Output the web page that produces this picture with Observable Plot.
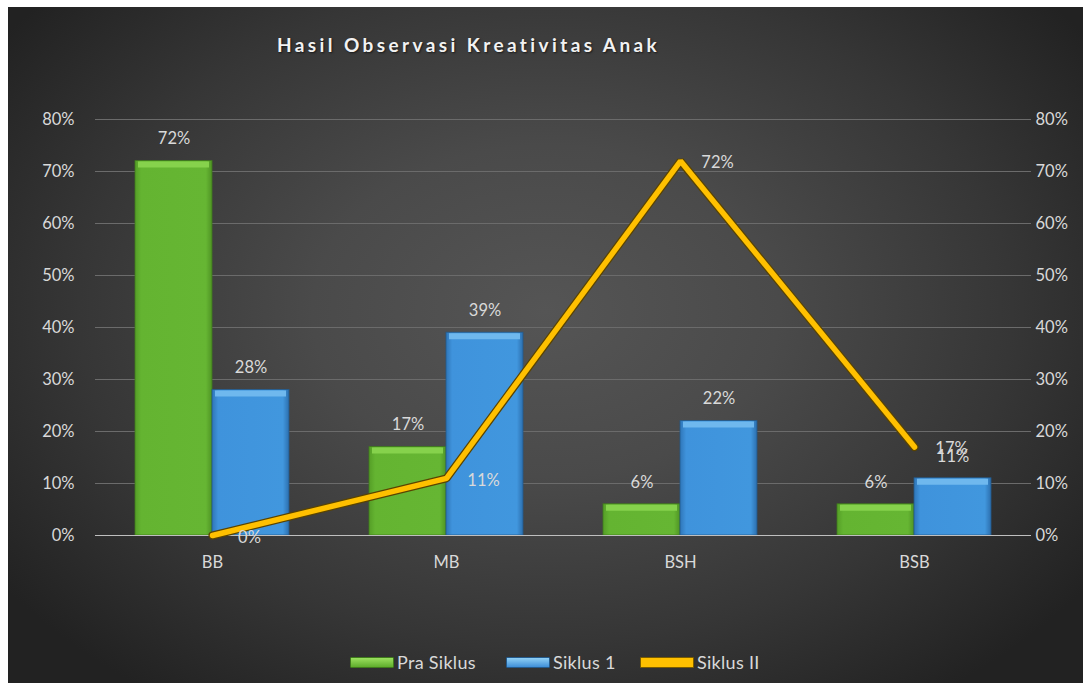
<!DOCTYPE html>
<html>
<head>
<meta charset="utf-8">
<script src="https://cdn.jsdelivr.net/npm/d3@7"></script>
<script src="https://cdn.jsdelivr.net/npm/@observablehq/plot@0.6"></script>
<style>
  html, body { margin: 0; padding: 0; background: #ffffff; }
  #frame {
    position: absolute; left: 8px; top: 7px; width: 1075px; height: 676px; overflow: hidden;
    background: radial-gradient(ellipse 62% 70% at 50% 45%, #555555 0%, #4a4a4a 35%, #363636 70%, #222222 100%);
    font-family: Lato, "Open Sans", sans-serif;
  }
  #title {
    height: 80px; box-sizing: border-box; padding-top: 27px; padding-left: 269px;
    font-size: 19px; line-height: 22px; font-weight: bold; letter-spacing: 3.4px; color: #f2f2f2;
    text-shadow: 1px 1px 2px rgba(0,0,0,0.6); white-space: nowrap;
  }
  #chart svg { display: block; }
  #legend { position: relative; height: 96px; color: #d9d9d9; font-size: 18px; letter-spacing: 0.3px; }
  .item { position: absolute; top: 64px; display: flex; align-items: center; height: 22px; white-space: nowrap; }
  .sw { height: 9px; margin-right: 3px; border-radius: 1px; }
</style>
</head>
<body>
<div id="frame">
  <div id="title">Hasil Observasi Kreativitas Anak</div>
  <div id="chart"></div>
  <div id="legend"></div>
</div>
<script>
const categories = ["BB", "MB", "BSH", "BSB"];
const seriesNames = ["Pra Siklus", "Siklus 1", "Siklus II"];
const praSiklus = [0.72, 0.17, 0.06, 0.06];
const siklus1 = [0.28, 0.39, 0.22, 0.11];
const siklus2 = [0.00, 0.11, 0.72, 0.17];
const yTicks = [0, 0.1, 0.2, 0.3, 0.4, 0.5, 0.6, 0.7, 0.8];

const pra = categories.map((c, i) => ({category: c, value: praSiklus[i]}));
const s1 = categories.map((c, i) => ({category: c, value: siklus1[i]}));
const s2 = categories.map((c, i) => ({category: c, value: siklus2[i]}));
const pct = d3.format(".0%");
const labelColor = "#d9d9d9";
const half = 77;

const chart = Plot.plot({
  width: 1075,
  height: 500,
  marginLeft: 87,
  marginRight: 52,
  marginTop: 32,
  marginBottom: 52,
  x: {domain: categories, paddingInner: 0.342, paddingOuter: 0.171, label: null},
  y: {domain: [0, 0.8], label: null},
  style: {background: "transparent", color: labelColor, fontFamily: "Lato, 'Open Sans', sans-serif", fontSize: "16.5px", overflow: "visible"},
  marks: [
    Plot.gridY(yTicks, {stroke: "#6b6b6b", strokeOpacity: 1}),
    Plot.axisY(yTicks, {anchor: "left", tickFormat: pct, tickSize: 0, tickPadding: 21, label: null, fill: labelColor}),
    Plot.axisY(yTicks, {anchor: "right", tickFormat: pct, tickSize: 0, tickPadding: 4, label: null, fill: labelColor}),
    Plot.axisX({tickSize: 0, tickPadding: 21, label: null, fill: labelColor}),
    // bars
    Plot.barY(pra, {x: "category", y: "value", fill: "url(#gGreen)", insetRight: half, stroke: "#3f7a1c", strokeWidth: 0.8}),
    Plot.barY(s1, {x: "category", y: "value", fill: "url(#gBlue)", insetLeft: half, stroke: "#245a8c", strokeWidth: 0.8}),
    // bevel on bar tops
    Plot.tickY(pra, {x: "category", y: "value", stroke: "#86d24c", strokeWidth: 6, dy: 3.5, insetRight: half + 3, insetLeft: 3}),
    Plot.tickY(s1, {x: "category", y: "value", stroke: "#6fb8ee", strokeWidth: 6, dy: 3.5, insetLeft: half + 3, insetRight: 3}),
    Plot.ruleY([0], {stroke: "#bfbfbf", strokeWidth: 1.2}),
    // line
    Plot.line(s2, {x: "category", y: "value", stroke: "#5a4400", strokeWidth: 8, strokeLinejoin: "miter", strokeLinecap: "round"}),
    Plot.line(s2, {x: "category", y: "value", stroke: "#ffc000", strokeWidth: 5.5, strokeLinejoin: "miter", strokeLinecap: "round"}),
    // labels
    Plot.text(pra, {x: "category", y: "value", text: d => pct(d.value), dx: -half / 2, dy: -22, fill: labelColor}),
    Plot.text(s1, {x: "category", y: "value", text: d => pct(d.value), dx: half / 2, dy: -22, fill: labelColor}),
    Plot.text(s2, {x: "category", y: "value", text: d => pct(d.value), dx: 37, dy: 2, fill: labelColor})
  ]
});

const defs = d3.select(chart).insert("defs", ":first-child");
const gG = defs.append("linearGradient").attr("id", "gGreen").attr("x1", 0).attr("x2", 1).attr("y1", 0).attr("y2", 0);
gG.append("stop").attr("offset", "0%").attr("stop-color", "#559e27");
gG.append("stop").attr("offset", "8%").attr("stop-color", "#64b431");
gG.append("stop").attr("offset", "92%").attr("stop-color", "#66b633");
gG.append("stop").attr("offset", "100%").attr("stop-color", "#4f9424");
const gB = defs.append("linearGradient").attr("id", "gBlue").attr("x1", 0).attr("x2", 1).attr("y1", 0).attr("y2", 0);
gB.append("stop").attr("offset", "0%").attr("stop-color", "#2f76b8");
gB.append("stop").attr("offset", "8%").attr("stop-color", "#3f93dc");
gB.append("stop").attr("offset", "92%").attr("stop-color", "#4197de");
gB.append("stop").attr("offset", "100%").attr("stop-color", "#2c6fae");

document.getElementById("chart").appendChild(chart);

// legend
const legendSpecs = [
  {name: seriesNames[0], left: 342, w: 42, bg: "linear-gradient(#9be05f, #5fae2c)", border: "#3f7a1c"},
  {name: seriesNames[1], left: 498, w: 42, bg: "linear-gradient(#8fd0f6, #3f8fd8)", border: "#245a8c"},
  {name: seriesNames[2], left: 632, w: 52, bg: "#ffc000", border: "#7a5c00"}
];
const legend = d3.select("#legend");
legendSpecs.forEach(s => {
  const it = legend.append("div").attr("class", "item").style("left", s.left + "px");
  it.append("div").attr("class", "sw").style("width", s.w + "px").style("background", s.bg).style("border", "1px solid " + s.border);
  it.append("span").text(s.name);
});
</script>
</body>
</html>
